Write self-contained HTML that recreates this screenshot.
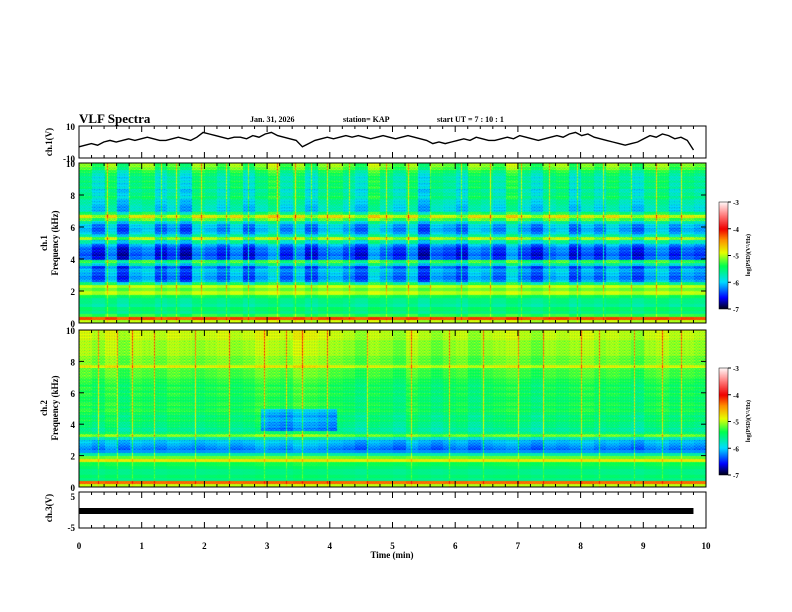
<!DOCTYPE html>
<html><head><meta charset="utf-8">
<style>
body{margin:0;background:#fff;}
#wrap{position:relative;width:792px;height:612px;overflow:hidden;font-family:"Liberation Serif",serif;}
svg{position:absolute;left:0;top:0;}
canvas{position:absolute;}
</style></head>
<body>
<div id="wrap">
<canvas id="c1" width="627" height="160" style="left:79px;top:163px;"></canvas>
<canvas id="c2" width="627" height="157" style="left:79px;top:330px;"></canvas>
<canvas id="cb1" width="9" height="107" style="left:719px;top:202px;"></canvas>
<canvas id="cb2" width="9" height="107" style="left:719px;top:368px;"></canvas>
<svg id="s" width="792" height="612"></svg>
</div>
<script>
// ---- data ----
const spec1Rows=[-5.0,-4.2,-5.3,-5.6,-5.5,-5.7,-5.6,-5.6,-5.4,-5.0,-5.2,-5.0,-5.6,-6.2,-6.3,-6.2,-6.1,-6.3,-5.8,-5.4,-6.4,-6.5,-6.4,-6.4,-6.2,-5.8,-5.1,-5.8,-6.1,-6.2,-6.1,-5.8,-5.3,-4.9,-5.5,-5.9,-5.9,-5.8,-5.8,-5.6,-5.7,-5.8,-5.6,-5.7,-5.6,-5.7,-5.6,-5.5,-5.3,-5.2];
const spec2Rows=[-5.0,-4.3,-5.6,-5.5,-5.6,-5.6,-5.5,-5.4,-4.8,-5.2,-5.7,-6.2,-6.3,-6.2,-6.1,-5.8,-5.2,-5.6,-5.7,-5.6,-5.6,-5.5,-5.6,-5.5,-5.4,-5.5,-5.4,-5.5,-5.5,-5.4,-5.5,-5.4,-5.5,-5.4,-5.4,-5.3,-5.3,-5.3,-4.9,-5.2,-5.2,-5.2,-5.1,-5.1,-5.1,-5.1,-5.1,-5.0,-5.0,-5.0];
const colMod1=[0.1,-0.2,0.2,-0.3,0.1,0.2,-0.2,0.0,-0.3,0.2,0.1,-0.1,0.2,-0.2,0.1,0.3,-0.1,0.2,-0.2,0.1,0.2,0.0,-0.2,0.3,0.1,-0.1,0.2,-0.3,0.1,0.0,-0.2,0.2,0.1,-0.1,0.3,0.0,-0.2,0.1,0.2,-0.2,0.1,-0.1,0.2,0.0,-0.2,0.1,0.2,-0.1,0.1,0.0];
const colMod2=[0.1,0.0,0.15,-0.05,0.1,0.05,0.0,0.1,0.05,0.0,0.05,0.1,0.0,0.05,0.15,0.1,0.05,0.2,0.15,0.1,0.05,0.0,-0.1,0.05,0.0,-0.1,0.1,0.0,-0.1,0.0,0.05,-0.1,0.0,0.05,0.1,0.0,-0.1,0.05,0.0,0.05,0.1,0.0,0.05,0.0,-0.1,0.05,0.1,0.0,0.05,0.0];
const streaks1=[0.45,0.8,1.3,1.55,1.95,2.35,2.7,3.15,3.45,3.7,3.95,4.3,4.9,5.25,5.6,6.1,6.55,7.05,7.5,7.95,8.35,8.8,9.2,9.6];
const streaks2=[0.3,0.6,0.85,1.2,1.85,2.4,2.95,3.3,3.55,3.95,4.6,5.3,5.9,6.45,7.0,7.4,8.0,8.3,8.85,9.3,9.6];
const patch2=[2.9,4.1,3.6,5.0]; // tmin,tmax,fmin,fmax
const ch1Trace=[-3,-2,-1,-2,0,1,0,1,2,1,2,3,2,1,1,2,3,2,1,3,6,5,4,3,2,3,3,2,4,3,5,6,4,3,2,1,-3,-1,1,2,3,2,3,4,3,4,3,2,3,4,3,2,3,4,3,2,1,-1,0,-1,0,1,2,1,3,2,1,1,2,3,2,4,3,2,1,2,3,4,3,5,6,4,5,3,2,1,0,-1,-2,-1,0,2,4,3,5,4,2,3,1,-5];
const xTicks=[0,1,2,3,4,5,6,7,8,9,10];
const cbTicks=[-3,-4,-5,-6,-7];

// ---- scales ----
const X0=79,X1=706;
const xs=t=>X0+(X1-X0)*t/10;
function cmap(v){
 const st=[[-7,[0,0,30]],[-6.6,[0,0,255]],[-6.0,[0,220,255]],[-5.4,[0,255,80]],[-4.9,[230,255,0]],[-4.4,[255,140,0]],[-4.0,[240,0,0]],[-3.5,[255,120,120]],[-3,[255,245,245]]];
 if(v<=st[0][0])return st[0][1];
 for(let i=1;i<st.length;i++){if(v<=st[i][0]){const a=st[i-1],b=st[i],f=(v-a[0])/(b[0]-a[0]);return a[1].map((c,k)=>Math.round(c+(b[1][k]-c)*f));}}
 return st[st.length-1][1];
}
function drawSpec(id,rows,mod,streaks,patch){
 const cv=document.getElementById(id),ctx=cv.getContext('2d'),W=cv.width,H=cv.height;
 const img=ctx.createImageData(W,H);
 for(let x=0;x<W;x++){
  const t=x/W*10;
  const m=mod[Math.min(mod.length-1,Math.floor(t/10*mod.length))];
  let s=0;for(const st of streaks){if(Math.abs(xs(st)-X0-x)<0.5)s=0.7;}
  const fine=((x*7)%5)/5*0.5-0.25;
  for(let y=0;y<H;y++){
   const f=(1-y/H)*10;
   let v=rows[Math.min(rows.length-1,Math.floor(f/10*rows.length))];
   const w=f>2.4?1:0.3;
   v+=(m+fine*((y%3)-1))*w+s*(f>2?1:0.4);
   if(patch&&t>=patch[0]&&t<=patch[1]&&f>=patch[2]&&f<=patch[3])v-=0.7;
   const c=cmap(v),i=(y*W+x)*4;
   img.data[i]=c[0];img.data[i+1]=c[1];img.data[i+2]=c[2];img.data[i+3]=255;
  }
 }
 ctx.putImageData(img,0,0);
}
drawSpec('c1',spec1Rows,colMod1,streaks1,null);
drawSpec('c2',spec2Rows,colMod2,streaks2,patch2);
['cb1','cb2'].forEach(id=>{const cv=document.getElementById(id),ctx=cv.getContext('2d');for(let y=0;y<cv.height;y++){const c=cmap(-3-4*y/(cv.height-1));ctx.fillStyle=`rgb(${c})`;ctx.fillRect(0,y,9,1);}});

// ---- svg ----
const S=document.getElementById('s'),NS='http://www.w3.org/2000/svg';
function el(tag,attrs,parent){const e=document.createElementNS(NS,tag);for(const k in attrs)e.setAttribute(k,attrs[k]);(parent||S).appendChild(e);return e;}
function txt(x,y,s,size,anchor,name,extra){const e=el('text',Object.assign({x:x,y:y,'font-size':size,'font-weight':'bold','font-family':'Liberation Serif, serif','text-anchor':anchor||'start'},extra||{}));e.textContent=s;return e;}
const panels=[[126,158],[163,323],[330,487],[492,528]];
panels.forEach((p,pi)=>{
 const r=el('rect',{x:X0,y:p[0],width:X1-X0,height:p[1]-p[0],fill:'none',stroke:'#000','stroke-width':1});
 
 for(let t=0;t<=10.001;t+=0.2){const big=Math.abs(t-Math.round(t))<0.01;const L=big?6:3;
  el('line',{x1:xs(t),x2:xs(t),y1:p[0],y2:p[0]+L,stroke:'#000'});el('line',{x1:xs(t),x2:xs(t),y1:p[1],y2:p[1]-L,stroke:'#000'});}
});
// trace
const ys1=v=>142-v*16/10;
let d='';ch1Trace.forEach((v,i)=>{d+=(i?'L':'M')+xs(i/(ch1Trace.length-1)*9.8).toFixed(1)+','+ys1(v).toFixed(1);});
const tr=el('path',{d:d,fill:'none',stroke:'#000','stroke-width':1.4});

// ch3 bar
const bar=el('rect',{x:X0,y:508,width:xs(9.8)-X0,height:6,fill:'#000'});

// y labels
txt(75,130,'10',9,'end','ch1-ytick-10');txt(75,162,'-10',9,'end','ch1-ytick-neg10');
[[163,323],[330,487]].forEach((p,pi)=>{[0,2,4,6,8,10].forEach(v=>{const y=p[1]-(p[1]-p[0])*v/10;txt(75,y+4,String(v),9,'end','ch'+(pi+1)+'-ytick-'+v);el('line',{x1:X0,x2:X0+5,y1:y,y2:y,stroke:'#000'});el('line',{x1:X1,x2:X1-5,y1:y,y2:y,stroke:'#000'});});});
txt(75,500,'5',9,'end','ch3-ytick-5');txt(75,531,'-5',9,'end','ch3-ytick-neg5');
xTicks.forEach(v=>txt(xs(v),549,String(v),9,'middle','xtick-'+v));
txt(392,558,'Time (min)',9,'middle','x-axis-title');
txt(52,142,'ch.1(V)',9,'middle','ch1-axis-title',{transform:'rotate(-90 52 142)'});
txt(52,508,'ch.3(V)',9,'middle','ch3-axis-title',{transform:'rotate(-90 52 508)'});
txt(47,243,'ch.1',9,'middle','spec1-axis-title',{transform:'rotate(-90 47 243)'});
txt(58,243,'Frequency (kHz)',9,'middle','spec1-freq-title',{transform:'rotate(-90 58 243)'});
txt(47,408,'ch.2',9,'middle','spec2-axis-title',{transform:'rotate(-90 47 408)'});
txt(58,408,'Frequency (kHz)',9,'middle','spec2-freq-title',{transform:'rotate(-90 58 408)'});
// header
txt(79,123,'VLF Spectra',13,'start','chart-title');
txt(250,122,'Jan. 31, 2026',8,'start','date-label');
txt(343,122,'station= KAP',8,'start','station-label');
txt(437,122,'start  UT =  7 : 10 : 1',8,'start','start-time-label');
// colorbar labels
[202,368].forEach((top,ci)=>{
 el('rect',{x:719,y:top,width:9,height:107,fill:'none',stroke:'#000','stroke-width':0.5});
 cbTicks.forEach((v,i)=>{const y=top+107*i/4;el('line',{x1:728,x2:731,y1:y,y2:y,stroke:'#000'});txt(733,y+3,String(v),7,'start','colorbar'+(ci+1)+'-tick-'+i);});
 txt(750,top+53,'log(PSD)(V²/Hz)',6,'middle','colorbar'+(ci+1)+'-title',{transform:`rotate(-90 750 ${top+53})`});
});
</script>
</body></html>
